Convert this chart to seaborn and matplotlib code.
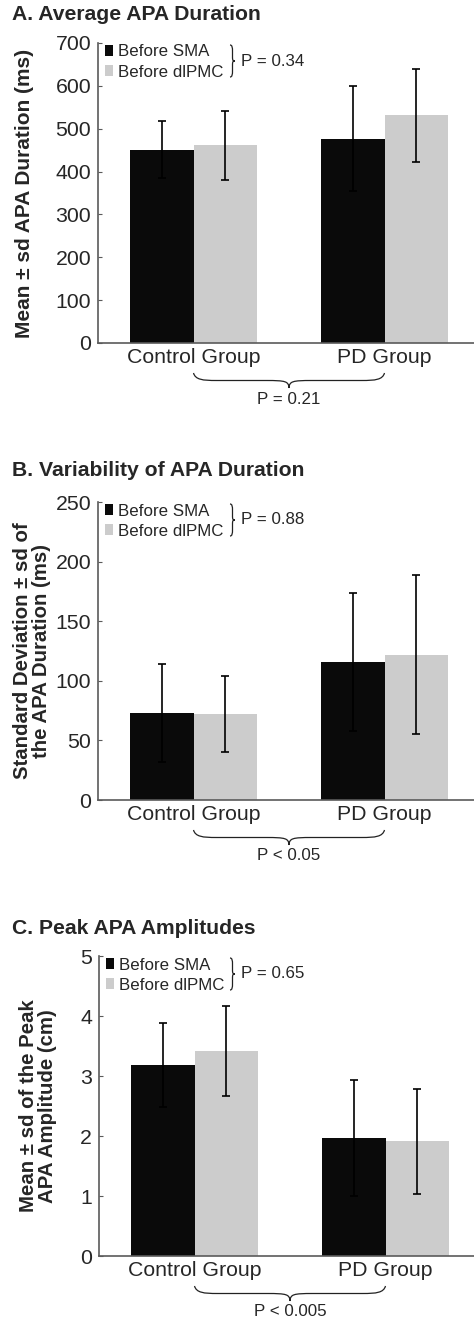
import numpy as np
import pandas as pd
import matplotlib
matplotlib.use("Agg")
import matplotlib.pyplot as plt
import seaborn as sns
from matplotlib.path import Path
from matplotlib.patches import PathPatch, Patch
import matplotlib.transforms as mtransforms

# ---------------- data ----------------
groups = ["Control Group", "PD Group"]
conditions = ["Before SMA", "Before dlPMC"]

a_sma_mean = [451, 477]
a_sma_sd = [67, 122]
a_dl_mean = [461, 531]
a_dl_sd = [81, 108]

b_sma_mean = [73, 116]
b_sma_sd = [41, 58]
b_dl_mean = [72, 122]
b_dl_sd = [32, 67]

c_sma_mean = [3.18, 1.97]
c_sma_sd = [0.70, 0.97]
c_dl_mean = [3.42, 1.91]
c_dl_sd = [0.75, 0.87]

titles = ["A. Average APA Duration", "B. Variability of APA Duration", "C. Peak APA Amplitudes"]
ylabels = ["Mean \u00b1 sd APA Duration (ms)",
           "Standard Deviation \u00b1 sd of\nthe APA Duration (ms)",
           "Mean \u00b1 sd of the Peak\nAPA Amplitude (cm)"]
within_p = ["P = 0.34", "P = 0.88", "P = 0.65"]
between_p = ["P = 0.21", "P < 0.05", "P < 0.005"]
ymax = [700, 250, 5]
ystep = [100, 50, 1]

# ---------------- style ----------------
sns.set_style("white")
plt.rcParams["font.family"] = ["Liberation Sans", "DejaVu Sans"]
BLACK = "#0a0a0a"
GRAY = "#cccccc"
SPINE = "#5a5a5a"

W, H = 474, 1325
fig = plt.figure(figsize=(W / 100, H / 100), dpi=100)

# axes boxes in pixels: (left, top, bottom)
boxes = [(98, 43, 343), (98, 502, 800), (99, 956, 1256)]
title_y = [15, 471, 928]
ylabel_x = [25, 32, 38]
AX_W = 382


def hbrace(ax, x0, x1, y_top, depth):
    """Horizontal brace opening upward; x in data, y in axes fraction."""
    trans = mtransforms.blended_transform_factory(ax.transData, ax.transAxes)
    xm = (x0 + x1) / 2
    h = depth / 2
    r = 0.12 * (x1 - x0)
    verts = [
        (x0, y_top),
        (x0 + 0.01 * (x1 - x0), y_top - h * 0.9), (x0 + r * 0.4, y_top - h), (x0 + r, y_top - h),
        (xm - r, y_top - h),
        (xm - r * 0.15, y_top - h), (xm - 0.002, y_top - h * 1.1), (xm, y_top - 2 * h),
        (xm + 0.002, y_top - h * 1.1), (xm + r * 0.15, y_top - h), (xm + r, y_top - h),
        (x1 - r, y_top - h),
        (x1 - r * 0.4, y_top - h), (x1 - 0.01 * (x1 - x0), y_top - h * 0.9), (x1, y_top),
    ]
    codes = [Path.MOVETO,
             Path.CURVE4, Path.CURVE4, Path.CURVE4,
             Path.LINETO,
             Path.CURVE4, Path.CURVE4, Path.CURVE4,
             Path.CURVE4, Path.CURVE4, Path.CURVE4,
             Path.LINETO,
             Path.CURVE4, Path.CURVE4, Path.CURVE4]
    ax.add_patch(PathPatch(Path(verts, codes), fc="none", ec="#222222", lw=0.9,
                           transform=trans, clip_on=False))


def vbrace(ax, x_left, y_top, y_bot, width):
    """Vertical brace '}' in axes fraction."""
    ym = (y_top + y_bot) / 2
    h = width / 2
    r = 0.2 * (y_top - y_bot)
    verts = [
        (x_left, y_top),
        (x_left + h * 0.9, y_top), (x_left + h, y_top - r * 0.4), (x_left + h, y_top - r),
        (x_left + h, ym + r * 0.6),
        (x_left + h, ym + r * 0.1), (x_left + h * 1.2, ym), (x_left + 2 * h, ym),
        (x_left + h * 1.2, ym), (x_left + h, ym - r * 0.1), (x_left + h, ym - r * 0.6),
        (x_left + h, y_bot + r),
        (x_left + h, y_bot + r * 0.4), (x_left + h * 0.9, y_bot), (x_left, y_bot),
    ]
    codes = [Path.MOVETO,
             Path.CURVE4, Path.CURVE4, Path.CURVE4,
             Path.LINETO,
             Path.CURVE4, Path.CURVE4, Path.CURVE4,
             Path.CURVE4, Path.CURVE4, Path.CURVE4,
             Path.LINETO,
             Path.CURVE4, Path.CURVE4, Path.CURVE4]
    ax.add_patch(PathPatch(Path(verts, codes), fc="none", ec="#222222", lw=0.9,
                           transform=ax.transAxes, clip_on=False))


panels = [
    (a_sma_mean, a_sma_sd, a_dl_mean, a_dl_sd),
    (b_sma_mean, b_sma_sd, b_dl_mean, b_dl_sd),
    (c_sma_mean, c_sma_sd, c_dl_mean, c_dl_sd),
]

for i, (sm, ss, dm, ds) in enumerate(panels):
    left, top, bot = boxes[i]
    hpx = bot - top
    ax = fig.add_axes([left / W, (H - bot) / H, AX_W / W, hpx / H])

    df = pd.DataFrame({
        "group": groups * 2,
        "condition": [conditions[0]] * 2 + [conditions[1]] * 2,
        "value": list(sm) + list(dm),
    })
    sns.barplot(data=df, x="group", y="value", hue="condition", order=groups,
                hue_order=conditions, palette=[BLACK, GRAY], width=0.66,
                errorbar=None, linewidth=0, legend=False, ax=ax)

    # error bars at bar centres (bars sorted by x: ctrl-SMA, ctrl-dl, PD-SMA, PD-dl)
    bars = sorted(ax.patches, key=lambda p: p.get_x())
    xs = [p.get_x() + p.get_width() / 2 for p in bars]
    means = [sm[0], dm[0], sm[1], dm[1]]
    sds = [ss[0], ds[0], ss[1], ds[1]]
    ax.errorbar(xs, means, yerr=sds, fmt="none", ecolor="black", elinewidth=1.2,
                capsize=2.6, capthick=1.2, zorder=5)

    ax.set_xlim(-0.5, 1.5)
    ax.set_ylim(0, ymax[i])
    ax.set_yticks(np.arange(0, ymax[i] + ystep[i] / 2, ystep[i]))
    ax.set_xticks([0, 1])
    ax.set_xticklabels(groups)
    ax.set_xticks([0.5], minor=True)
    ax.tick_params(axis="x", which="major", length=0, pad=3.5, labelsize=15.3)
    ax.tick_params(axis="x", which="minor", length=3, direction="in", color=SPINE)
    ax.tick_params(axis="y", length=3, direction="in", color=SPINE, pad=5, labelsize=15.3,
                   left=True)
    ax.set_xlabel("")
    for s in ["top", "right"]:
        ax.spines[s].set_visible(False)
    for s in ["left", "bottom"]:
        ax.spines[s].set_color(SPINE)
        ax.spines[s].set_linewidth(1.2)

    ax.set_ylabel(ylabels[i], fontsize=15 if i == 0 else 14.7, fontweight="bold",
                  linespacing=0.95)
    ax.yaxis.label.set_va("center")
    ax.yaxis.set_label_coords((ylabel_x[i] - left) / AX_W, 0.5)

    fig.text(12 / W, 1 - title_y[i] / H, titles[i], fontsize=15.2, fontweight="bold",
             ha="left", va="center")

    # legend
    handles = [Patch(facecolor=BLACK, edgecolor="none"), Patch(facecolor=GRAY, edgecolor="none")]
    ax.legend(handles, conditions, loc="upper left", bbox_to_anchor=(7 / AX_W, 1 - 1.5 / hpx),
              frameon=False, fontsize=12.2, handlelength=0.5, handleheight=0.6,
              handletextpad=0.25, labelspacing=0.3, borderpad=0, borderaxespad=0)

    vbrace(ax, (230 - left) / AX_W, 1 - 2 / hpx, 1 - 34 / hpx, 5 / AX_W)
    ax.text((241 - left) / AX_W, 1 - 18 / hpx, within_p[i], transform=ax.transAxes,
            fontsize=12.2, ha="left", va="center")

    hbrace(ax, 0, 1, -30 / hpx, 15 / hpx)
    ax.text(0.5, -56 / hpx, between_p[i], transform=mtransforms.blended_transform_factory(
        ax.transData, ax.transAxes), fontsize=12.2, ha="center", va="center")

fig.savefig("out.png", dpi=100)
